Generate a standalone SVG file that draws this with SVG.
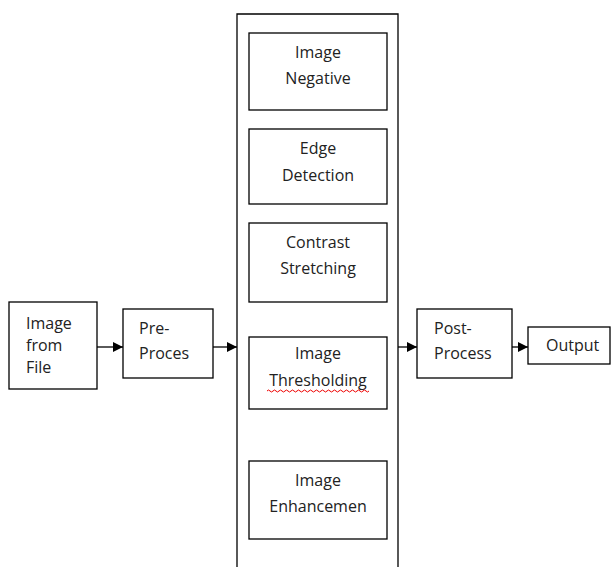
<svg xmlns="http://www.w3.org/2000/svg" width="611" height="567" viewBox="0 0 611 567">
<defs>
<style>
.box{fill:#fff;stroke:#000;stroke-width:1.3}
.t{font-family:"Open Sans","Liberation Sans",sans-serif;font-size:16px;fill:#222}
.c{text-anchor:middle}
.ln{stroke:#000;stroke-width:1.3;fill:none}
</style>
<marker id="ah" markerWidth="10" markerHeight="10" refX="10" refY="5" orient="auto" markerUnits="userSpaceOnUse">
<path d="M0,0 L10,5 L0,10 Z" fill="#000"/>
</marker>
</defs>
<rect width="611" height="567" fill="#fff"/>
<g id="container">
<path class="ln" d="M237,568 V14 H398 V568"/>
</g>
<g id="image-from-file">
<rect class="box" x="9" y="302" width="88" height="87"/>
<text class="t" x="26" y="329">Image</text>
<text class="t" x="26" y="351">from</text>
<text class="t" x="26" y="373">File</text>
</g>
<g id="pre-proces">
<rect class="box" x="123" y="309" width="90" height="69"/>
<text class="t" x="139" y="334">Pre-</text>
<text class="t" x="139" y="359">Proces</text>
</g>
<g id="image-negative">
<rect class="box" x="249" y="33" width="138" height="77"/>
<text class="t c" x="318" y="58">Image</text>
<text class="t c" x="318" y="84">Negative</text>
</g>
<g id="edge-detection">
<rect class="box" x="249" y="129" width="138" height="75"/>
<text class="t c" x="318" y="154">Edge</text>
<text class="t c" x="318" y="181">Detection</text>
</g>
<g id="contrast-stretching">
<rect class="box" x="249" y="223" width="138" height="79"/>
<text class="t c" x="318" y="248">Contrast</text>
<text class="t c" x="318" y="274">Stretching</text>
</g>
<g id="image-thresholding">
<rect class="box" x="249" y="337" width="138" height="72"/>
<text class="t c" x="318" y="359">Image</text>
<text class="t c" x="318" y="386">Thresholding</text>
<path d="M267,391 q1.5,-2 3,0 t3,0 t3,0 t3,0 t3,0 t3,0 t3,0 t3,0 t3,0 t3,0 t3,0 t3,0 t3,0 t3,0 t3,0 t3,0 t3,0 t3,0 t3,0 t3,0 t3,0 t3,0 t3,0 t3,0 t3,0 t3,0 t3,0 t3,0 t3,0 t3,0 t3,0 t3,0 t3,0 t3,0" fill="none" stroke="#e00" stroke-width="1"/>
</g>
<g id="image-enhancemen">
<rect class="box" x="249" y="461" width="138" height="78"/>
<text class="t c" x="318" y="486">Image</text>
<text class="t c" x="318" y="512">Enhancemen</text>
</g>
<g id="post-process">
<rect class="box" x="417" y="309" width="95" height="69"/>
<text class="t" x="434" y="334">Post-</text>
<text class="t" x="434" y="359">Process</text>
</g>
<g id="output">
<rect class="box" x="528" y="327" width="82" height="37"/>
<text class="t" x="546" y="351">Output</text>
</g>
<g id="connectors">
<line class="ln" x1="97" y1="347" x2="123" y2="347" marker-end="url(#ah)"/>
<line class="ln" x1="213" y1="347" x2="237" y2="347" marker-end="url(#ah)"/>
<line class="ln" x1="398" y1="347" x2="417" y2="347" marker-end="url(#ah)"/>
<line class="ln" x1="512" y1="347" x2="528" y2="347" marker-end="url(#ah)"/>
</g>
</svg>
